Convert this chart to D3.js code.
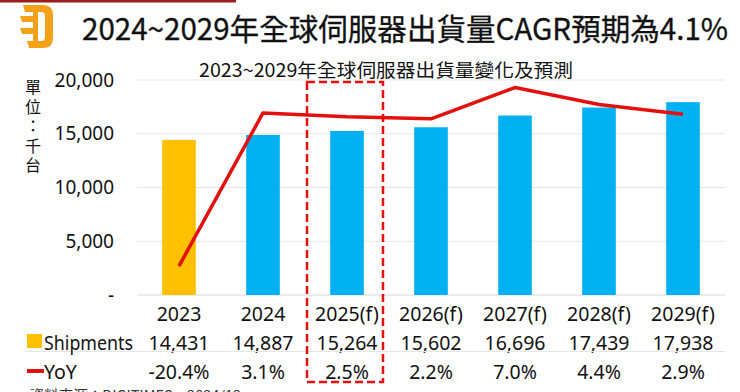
<!DOCTYPE html>
<html><head><meta charset="utf-8">
<script src="https://cdn.jsdelivr.net/npm/d3@7"></script>
<style>
html,body{margin:0;padding:0;background:#fff;}
svg{display:block;font-family:"Noto Sans CJK TC","Noto Sans",sans-serif;}
</style></head>
<body><svg id="c" width="740" height="392"></svg>
<script>
const categories = ["2023","2024","2025(f)","2026(f)","2027(f)","2028(f)","2029(f)"];
const shipments = [14431,14887,15264,15602,16696,17439,17938];
const yoy = [-20.4,3.1,2.5,2.2,7.0,4.4,2.9];
const yTicks = [0,5000,10000,15000,20000];
const barColors = ["#FFC000","#00B0F0","#00B0F0","#00B0F0","#00B0F0","#00B0F0","#00B0F0"];
const title = "2024~2029年全球伺服器出貨量CAGR預期為4.1%";
const subtitle = "2023~2029年全球伺服器出貨量變化及預測";
const unitLabel = "單位：千台";
const source = "• 資料來源：DIGITIMES，2024/12";

(function(){
const svg = d3.select("#c");
const pLeft = 137, pRight = 725, pTop = 80, pBottom = 295;

const x = d3.scaleBand().domain(categories).range([pLeft,pRight]).paddingInner(0.6).paddingOuter(0.3);
const y = d3.scaleLinear().domain([0,20000]).range([pBottom,pTop]);
const y2 = d3.scaleLinear().domain([-25,10]).range([296,68]);
const cx = d => x(d) + x.bandwidth()/2;

// top dark red line
svg.append("rect").attr("x",0).attr("y",0).attr("width",236).attr("height",2.5).attr("fill","#9b1c1c");

// logo
const logo = svg.append("g").attr("fill","#F4A11A");
logo.append("path").attr("fill-rule","evenodd")
  .attr("d","M23,5 H43 Q53,5 53,15 V38 Q53,48 43,48 H29 L27,41 H41 Q45,41 45,37 V16 Q45,12 41,12 H25 Z");
logo.append("path").attr("d","M20,16 H37 V22 H22 Z");
logo.append("path").attr("d","M20,28 H37 V34 H22 Z");
logo.append("rect").attr("x",33).attr("y",12).attr("width",5).attr("height",29);

// title
svg.append("text").attr("x",82).attr("y",40).attr("font-size",30).attr("fill","#111")
  .attr("stroke","#111").attr("stroke-width",0.3)
  .attr("textLength",646).attr("lengthAdjust","spacingAndGlyphs").text(title);

// subtitle
svg.append("text").attr("x",386).attr("y",77).attr("text-anchor","middle").attr("font-size",18.5).attr("fill","#111")
  .attr("textLength",374).attr("lengthAdjust","spacingAndGlyphs").text(subtitle);

// unit label (vertical writing)
svg.append("text").attr("x",33).attr("y",79).attr("font-size",16).attr("fill","#111")
  .attr("writing-mode","vertical-rl").attr("letter-spacing",3.5).text(unitLabel);

// gridlines
svg.append("g").selectAll("line").data(yTicks).join("line")
  .attr("x1",pLeft).attr("x2",pRight).attr("y1",d=>y(d)).attr("y2",d=>y(d))
  .attr("stroke",d=>d===0?"#d9d9d9":"#e6e6e6").attr("stroke-width",1);

// y axis labels
const yAxis = d3.axisLeft(y).tickValues(yTicks).tickSize(0).tickPadding(0)
  .tickFormat(d=>d===0?"-":d3.format(",")(d));
const ga = svg.append("g").attr("transform","translate(114,0)").call(yAxis);
ga.select(".domain").remove();
ga.selectAll("text").attr("font-size",19).attr("fill","#111").attr("font-family","'Noto Sans','Open Sans',sans-serif");

// bars
svg.append("g").selectAll("rect").data(shipments).join("rect")
  .attr("x",(d,i)=>x(categories[i])).attr("width",x.bandwidth())
  .attr("y",d=>y(d)).attr("height",d=>pBottom-y(d)).attr("fill",(d,i)=>barColors[i]);

// yoy line
const line = d3.line().x((d,i)=>cx(categories[i])).y(d=>y2(d));
svg.append("path").datum(yoy).attr("d",line).attr("fill","none").attr("stroke","#E3110E")
  .attr("stroke-width",3.5).attr("stroke-linejoin","round");

// table
const numFont = "'Noto Sans','Open Sans',sans-serif";
svg.append("g").selectAll("text").data(categories).join("text")
  .attr("x",d=>cx(d)).attr("y",321).attr("text-anchor","middle").attr("font-size",19.5).attr("fill","#111")
  .attr("font-family",numFont).text(d=>d);
svg.append("g").selectAll("text").data(shipments).join("text")
  .attr("x",(d,i)=>cx(categories[i])).attr("y",350).attr("text-anchor","middle").attr("font-size",19.5).attr("fill","#111")
  .attr("font-family",numFont).text(d=>d3.format(",")(d));
svg.append("g").selectAll("text").data(yoy).join("text")
  .attr("x",(d,i)=>cx(categories[i])).attr("y",379).attr("text-anchor","middle").attr("font-size",19.5).attr("fill","#111")
  .attr("font-family",numFont).text(d=>d.toFixed(1)+"%");

// separator line
svg.append("line").attr("x1",25).attr("x2",pRight).attr("y1",351.5).attr("y2",351.5).attr("stroke","#e6e6e6");

// legend entries
svg.append("rect").attr("x",27).attr("y",334).attr("width",15).attr("height",14).attr("fill","#FFC000");
svg.append("text").attr("x",44).attr("y",350).attr("font-size",19.5).attr("fill","#111").attr("font-family",numFont)
  .attr("textLength",89).attr("lengthAdjust","spacingAndGlyphs").text("Shipments");
svg.append("line").attr("x1",27).attr("x2",44).attr("y1",371).attr("y2",371).attr("stroke","#E3110E").attr("stroke-width",4);
svg.append("text").attr("x",44).attr("y",379).attr("font-size",19.5).attr("fill","#111").attr("font-family",numFont).text("YoY");

// highlight dashed rectangle around 2025(f)
const hc = cx("2025(f)");
svg.append("rect").attr("x",hc-40).attr("y",82)
  .attr("width",76).attr("height",300).attr("fill","none")
  .attr("stroke","#E3110E").attr("stroke-width",2.5).attr("stroke-dasharray","8,4");

// source
svg.append("text").attr("x",12).attr("y",401).attr("font-size",14.5).attr("fill","#333").text(source);
})();
</script></body></html>
